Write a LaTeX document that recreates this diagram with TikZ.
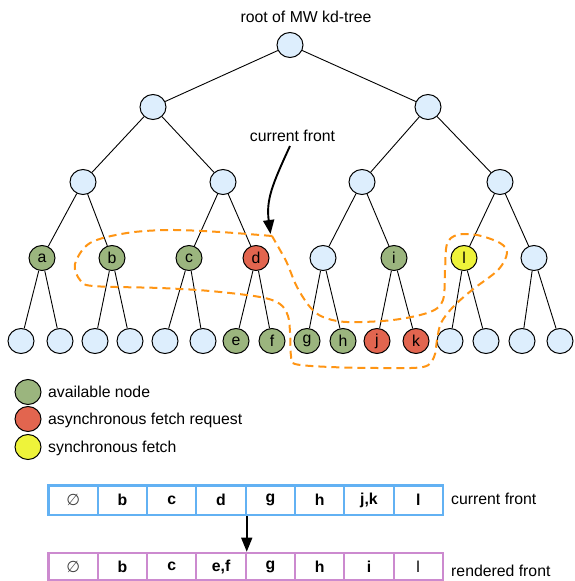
\documentclass[tikz,border=0pt]{standalone}
\usepackage{fontspec}
\setmainfont{Liberation Sans}
\newfontfamily\dejavu{DejaVu Sans}
\usetikzlibrary{shapes.geometric,arrows.meta}
\definecolor{nodeblue}{HTML}{DDEEFD}
\definecolor{ngreen}{HTML}{9BB57E}
\definecolor{nred}{HTML}{E2654F}
\definecolor{nyellow}{HTML}{EEF33A}
\definecolor{dashorange}{HTML}{FF9514}
\definecolor{arrblue}{HTML}{62B1F3}
\definecolor{arrpink}{HTML}{CC8ACF}
\newcommand{\fs}{\fontsize{15.8}{18}\selectfont}
\tikzset{
  tn/.style={ellipse, draw, line width=1pt, minimum width=26pt, minimum height=25pt, inner sep=0pt, fill=nodeblue, font=\fs},
  gn/.style={tn, fill=ngreen},
  rn/.style={tn, fill=nred},
  yn/.style={tn, fill=nyellow},
  edge/.style={line width=0.9pt},
  lbl/.style={font=\fs, inner sep=0pt},
  cellb/.style={draw=arrblue, line width=2.1pt, minimum width=49.3pt, minimum height=29.5pt, inner sep=0pt, font=\fs\bfseries},
  cellp/.style={draw=arrpink, line width=2.1pt, minimum width=49.3pt, minimum height=27.5pt, inner sep=0pt, font=\fs\bfseries},
}
\begin{document}
\begin{tikzpicture}[x=1pt,y=-1pt]
\useasboundingbox (0,0) rectangle (574,581);
% tree
\node[tn] (r) at (290,45) {};
\node[tn] (l1a) at (153,107) {};
\node[tn] (l1b) at (428,107) {};
\node[tn] (l2a) at (83,182) {};
\node[tn] (l2b) at (223,182) {};
\node[tn] (l2c) at (362,182) {};
\node[tn] (l2d) at (500,182) {};
\node[gn] (a) at (42,258) {a};
\node[gn] (b) at (112,258) {b};
\node[gn] (c) at (189,258) {c};
\node[rn] (d) at (256,258) {d};
\node[tn] (x) at (323,258) {};
\node[gn] (i) at (394,258) {i};
\node[yn] (l) at (464,258) {l};
\node[tn] (y) at (534,258) {};
\node[tn] (p1) at (21,341) {};
\node[tn] (p2) at (60,341) {};
\node[tn] (p3) at (95,341) {};
\node[tn] (p4) at (130,341) {};
\node[tn] (p5) at (165,341) {};
\node[tn] (p6) at (203,341) {};
\node[gn] (e) at (236,341) {e};
\node[gn] (f) at (272,341) {f};
\node[gn] (g) at (307,341) {g};
\node[gn] (h) at (343,341) {h};
\node[rn] (j) at (377,341) {j};
\node[rn] (k) at (416,341) {k};
\node[tn] (q1) at (450,341) {};
\node[tn] (q2) at (486,341) {};
\node[tn] (q3) at (522,341) {};
\node[tn] (q4) at (560,341) {};
\foreach \u/\v in {r/l1a,r/l1b,l1a/l2a,l1a/l2b,l1b/l2c,l1b/l2d,l2a/a,l2a/b,l2b/c,l2b/d,l2c/x,l2c/i,l2d/l,l2d/y,
  a/p1,a/p2,b/p3,b/p4,c/p5,c/p6,d/e,d/f,x/g,x/h,i/j,i/k,l/q1,l/q2,y/q3,y/q4}
  \draw[edge] (\u) -- (\v);
\node[lbl] (rootlbl) at (306,17) {root of MW kd-tree};
\node[lbl] (cflbl) at (292.5,136) {current front};
% dashed front
\draw[dashorange, line width=2pt, dash pattern=on 8pt off 5pt, line join=round]
  plot[smooth, tension=0.55] coordinates {(272,236) (220,232) (170,230) (127,233) (90,243) (75,264) (80,280) (93,286) (160,288) (210,291) (260,297) (280,304) (288,316) (290,332) (291,356) (295,364) (330,367) (380,368) (423,367) (434,357) (437,340) (441,323) (453,307) (472,290) (498,270) (507,253) (500,243) (477,235) (457,235) (447,244) (445,270) (443,300) (430,312) (393,320) (347,322) (323,317) (310,307) (297,287) (287,263) (280,250) (272,236)};
% current front arrow
\coordinate (cfa) at (290,146);
\coordinate (cft) at (270.5,234);
\draw[line width=1.9pt, -{Triangle[length=14pt,width=11pt]}] (cfa) .. controls (272,185) and (266,200) .. (cft);
% legend
\node[gn] (lg1) at (28,392) {};
\node[rn] (lg2) at (28,419) {};
\node[yn] (lg3) at (28,447) {};
\node[lbl, anchor=west] (lt1) at (48,392) {available node};
\node[lbl, anchor=west] (lt2) at (48,420) {asynchronous fetch request};
\node[lbl, anchor=west] (lt3) at (48,448) {synchronous fetch};
% arrays
\foreach \n/\t in {1/{\dejavu\mdseries\color{black!75}∅},2/b,3/c,4/d,5/g,6/h,7/{j,k},8/l}
  \node[cellb] (t\n) at ({48.5+(\n-0.5)*49.3},500.2) {\t};
\foreach \n/\t in {1/{\dejavu\mdseries\color{black!75}∅},2/b,3/c,4/{e,f},5/g,6/h,7/i,8/{\mdseries l}}
  \node[cellp] (b\n) at ({48.5+(\n-0.5)*49.3},566.5) {\t};
\draw[line width=1.5pt, -{Triangle[length=14pt,width=11pt]}] (t4.south east) -- (b4.north east);
\node[lbl, anchor=west] (cfr) at (451,499) {current front};
\node[lbl, anchor=west] (rfr) at (451,571) {rendered front};
\end{tikzpicture}
\end{document}
